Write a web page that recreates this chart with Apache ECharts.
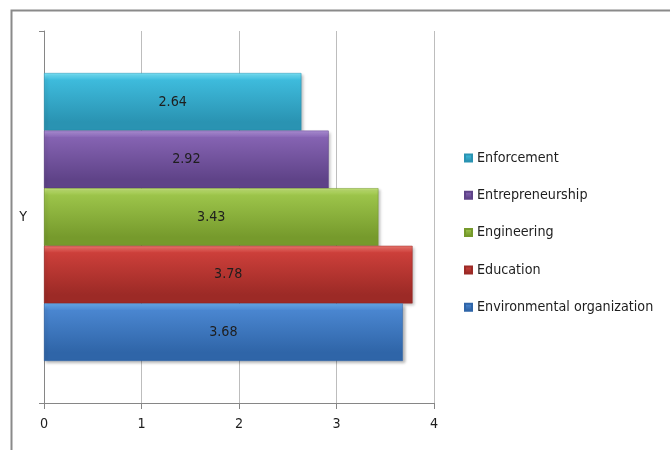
<!DOCTYPE html>
<html><head><meta charset="utf-8">
<script src="https://cdn.jsdelivr.net/npm/echarts@6/dist/echarts.min.js"></script>
<style>html,body{margin:0;padding:0;background:#fff}#c{width:670px;height:450px}</style>
</head><body><div id="c"></div>
<script>
const categories = ['Y'];
const seriesNames = ['Enforcement', 'Entrepreneurship', 'Engineering', 'Education', 'Environmental organization'];
const values = [2.64, 2.92, 3.43, 3.78, 3.68];
const xTicks = [0, 1, 2, 3, 4];

const palettes = [
  ['#7ae6fb', '#3ebbdc', '#2a93b2'],
  ['#b194dc', '#8563b2', '#5f4388'],
  ['#c4e47a', '#9cc44a', '#769a2c'],
  ['#f07a72', '#cc3f3a', '#9c2a26'],
  ['#6aaef0', '#4a86d0', '#2f65a8']
];
const FONT = "'DejaVu Sans Condensed', 'Liberation Sans', sans-serif";
const FS = 14.2;

function grad(p) {
  return new echarts.graphic.LinearGradient(0, 0, 0, 1, [
    {offset: 0, color: p[0]}, {offset: 0.12, color: p[1]},
    {offset: 0.85, color: p[2]}, {offset: 1, color: p[2]}
  ]);
}

const chart = echarts.init(document.getElementById('c'), null, {renderer: 'canvas'});
chart.setOption({
  animation: false,
  textStyle: {fontFamily: FONT},
  graphic: [{
    type: 'rect', left: 9, top: 8, shape: {width: 700, height: 500},
    style: {fill: 'none', stroke: '#8a8a8a', lineWidth: 2}, silent: true, z: -1
  }],
  grid: {left: 44, right: 236, top: 31, bottom: 47, containLabel: false},
  legend: {
    data: seriesNames, orient: 'vertical', left: 464, top: 149, padding: 0,
    itemWidth: 7, itemHeight: 7, itemGap: 19.3, icon: 'rect',
    textStyle: {fontFamily: FONT, fontSize: FS, color: '#1e1e1e', lineHeight: 18, padding: [0, 0, 0, 0]}
  },
  xAxis: {
    type: 'value', min: 0, max: 4, interval: 1,
    axisLine: {show: true, lineStyle: {color: '#868686'}},
    axisTick: {show: true, length: 6, lineStyle: {color: '#868686'}},
    axisLabel: {fontFamily: FONT, fontSize: FS, color: '#1e1e1e', margin: 14,
      formatter: v => xTicks.includes(v) ? String(v) : ''},
    splitLine: {show: true, lineStyle: {color: '#bdbdbd'}}
  },
  yAxis: {
    type: 'category', data: categories,
    axisLine: {show: true, lineStyle: {color: '#868686'}},
    axisTick: {show: true, length: 5, lineStyle: {color: '#868686'}},
    axisLabel: {fontFamily: FONT, fontSize: FS, color: '#1e1e1e', margin: 17}
  },
  series: seriesNames.map((n, i) => ({
    name: n, type: 'bar', data: [values[i]],
    barCategoryGap: '22.6%', barGap: '0%',
    itemStyle: {color: grad(palettes[i]), borderColor: palettes[i][2], borderWidth: 0.5,
      shadowBlur: 3, shadowOffsetX: 2, shadowOffsetY: 2, shadowColor: 'rgba(0,0,0,0.3)'},
    label: {show: true, position: 'inside', fontFamily: FONT, fontSize: FS, color: '#1e1e1e',
      formatter: p => p.value.toFixed(2)}
  }))
});
</script></body></html>
